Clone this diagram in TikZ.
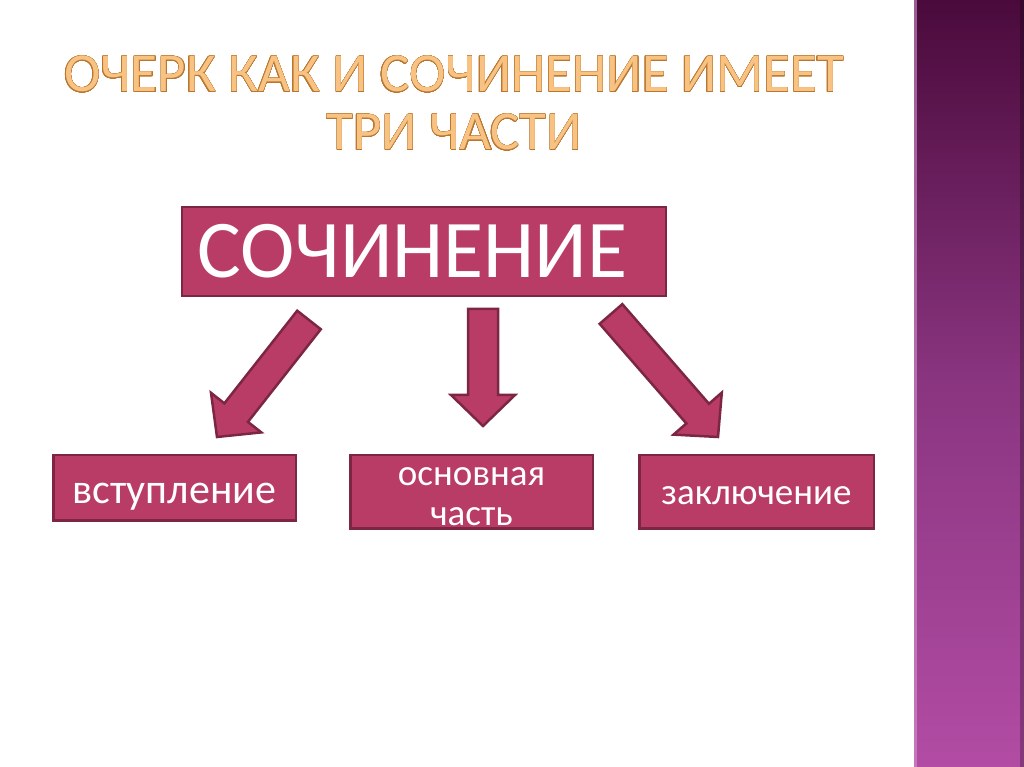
\documentclass[tikz,border=0pt]{standalone}
\usepackage{fontspec}
\setmainfont{Carlito}
\usepackage{contour}
\contourlength{0.35pt}
\contournumber{24}
\usetikzlibrary{calc, positioning}
\definecolor{boxfill}{HTML}{B83C66}
\definecolor{boxline}{HTML}{7D2643}
\definecolor{titlefill}{HTML}{F8C282}
\definecolor{titleline}{HTML}{B8762F}
\definecolor{stripTop}{HTML}{4A0A3B}
\definecolor{stripMid}{HTML}{8A3580}
\definecolor{stripBot}{HTML}{B24CA4}
% block arrow from a tail coordinate to a tip coordinate
\newcommand{\blockarrow}[2]{%
  \coordinate (#1-base) at ($(#2)!31pt!(#1)$);
  \draw[arrowbody] ($(#1)!15pt!90:(#2)$) -- ($(#1-base)!15pt!90:(#2)$)
    -- ($(#1-base)!32pt!90:(#2)$) -- (#2) -- ($(#1-base)!32pt!-90:(#2)$)
    -- ($(#1-base)!15pt!-90:(#2)$) -- ($(#1)!15pt!-90:(#2)$) -- cycle;}

\begin{document}
\begin{tikzpicture}[
    x=1pt, y=1pt,
    box/.style={draw=boxline, fill=boxfill, line width=2.5pt, text=white,
                inner sep=0pt},
    part/.style={box, align=center, text depth=0pt, text height=26pt,
                 minimum height=73.5pt,
                 font=\fontsize{37}{40}\selectfont},
    arrowbody/.style={draw=boxline, fill=boxfill, line width=2.5pt},
    heading/.style={text=titlefill, align=center, inner sep=0pt,
                    font=\fontsize{55}{58}\selectfont},
]
\fill[white] (0,0) rectangle (1024,767);
\useasboundingbox (0,0) rectangle (1024,767);
% side strip
\shade[top color=stripTop, bottom color=stripBot, middle color=stripMid]
  (914,0) rectangle (1024,767);
\fill[stripBot!60!white, opacity=0.6] (914,0) rectangle (916.5,767);
\fill[black, opacity=0.25] (1020,0) rectangle (1024,767);

\node[heading] (title) at (454,663.5)
  {\contour{titleline}{ОЧЕРК КАК И СОЧИНЕНИЕ ИМЕЕТ}\\
   \contour{titleline}{ТРИ ЧАСТИ}};

\node[box, minimum height=89pt, text width=454pt, inner xsep=15pt,
      align=left, text height=53pt, text depth=0pt,
      font=\fontsize{82}{82}\selectfont] (soch) at (424,515.5) {СОЧИНЕНИЕ};

\node[part, minimum width=242.5pt, minimum height=65.5pt,
      text height=31pt, font=\fontsize{42}{40}\selectfont]
  (intro) at (174.5,279) {вступление};
\node[part, minimum width=242.5pt, text height=68pt,
      below right=0pt and 52pt of intro.north east,
      anchor=north west] (body) {основная\\часть};
\node[part, minimum width=234.5pt,
      below right=0pt and 44pt of body.north east,
      anchor=north west] (ending) {заключение};

\coordinate (ltail) at (309,447);
\coordinate (ltip)  at (217,330);
\coordinate (mtail) at (483,458);
\coordinate (mtip)  at (483,341);
\coordinate (rtail) at (611,453);
\coordinate (rtip)  at (718,330);
\blockarrow{ltail}{ltip}
\blockarrow{mtail}{mtip}
\blockarrow{rtail}{rtip}
\end{tikzpicture}
\end{document}
